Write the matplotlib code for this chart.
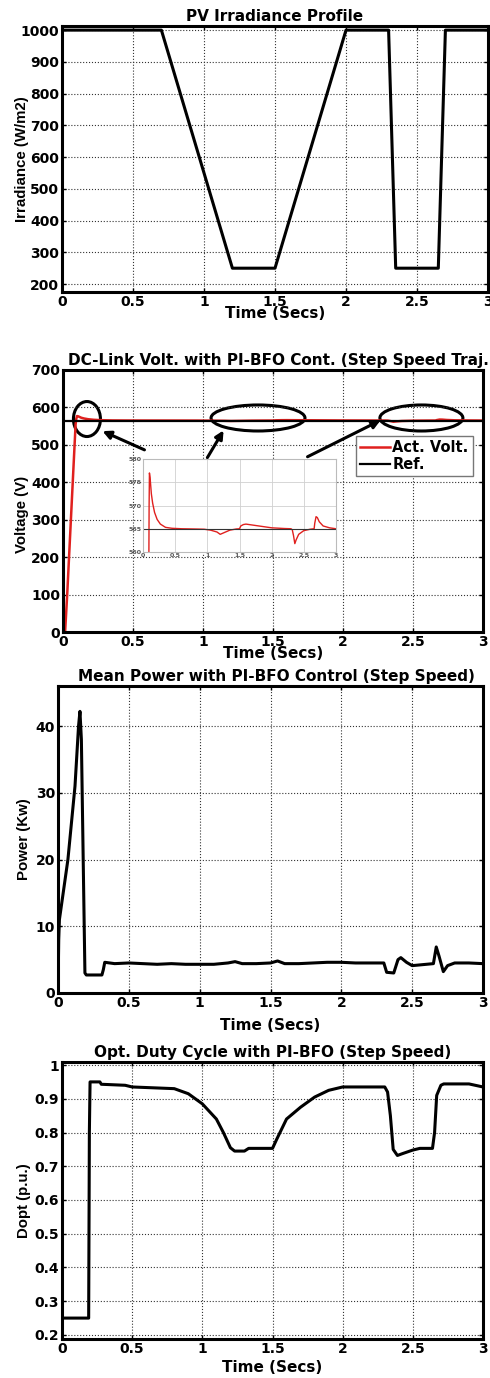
import matplotlib
matplotlib.use('Agg')
import matplotlib.pyplot as plt
from matplotlib.patches import Ellipse

# PV irradiance profile (W/m2)
irr_t = [0, 0.7, 1.2, 1.5, 2.0, 2.3, 2.35, 2.65, 2.7, 3.0]
irr_g = [1000, 1000, 250, 250, 1000, 1000, 250, 250, 1000, 1000]

# DC-link voltage (V)
vdc_t = [0, 0.015, 0.03, 0.09, 0.095, 0.1, 0.11, 0.13, 0.15, 0.18, 0.22, 0.27,
         0.35, 0.45, 0.6, 0.8, 0.95, 1.05, 1.15, 1.2, 1.25, 1.35, 1.45, 1.5,
         1.52, 1.56, 1.6, 1.7, 1.85, 2.0, 2.2, 2.3, 2.32, 2.34, 2.36, 2.38,
         2.42, 2.5, 2.6, 2.66, 2.67, 2.69, 2.71, 2.74, 2.8, 2.9, 3.0]
vdc_v = [0, 0, 100, 555, 570, 577, 576, 572.5, 570.5, 568.5, 567, 566,
         565.3, 565.1, 565, 564.95, 564.9, 564.7, 564.3, 563.8, 564.1, 564.7, 564.95, 565,
         565.6, 565.9, 566, 565.8, 565.5, 565.2, 565.05, 565, 564.8, 563.5, 561.8, 562.6,
         563.8, 564.6, 564.9, 565, 566.2, 567.6, 567.4, 566.5, 565.6, 565.2, 565.0]
vdc_ref = 565

# mean power (kW)
pw_t = [0, 0.005, 0.01, 0.03, 0.07, 0.12, 0.145, 0.155, 0.165, 0.19, 0.2, 0.31,
        0.32, 0.33, 0.4, 0.5, 0.6, 0.7, 0.8, 0.9, 1.0, 1.1, 1.2, 1.25, 1.3, 1.4,
        1.5, 1.55, 1.6, 1.7, 1.8, 1.9, 2.0, 2.1, 2.2, 2.3, 2.32, 2.37, 2.4, 2.42,
        2.46, 2.5, 2.6, 2.65, 2.67, 2.69, 2.72, 2.75, 2.8, 2.9, 3.0]
pw_p = [0, 8, 11, 14, 20, 31, 40, 42.2, 38, 3.0, 2.7, 2.7,
        3.5, 4.6, 4.4, 4.5, 4.4, 4.3, 4.4, 4.3, 4.3, 4.3, 4.5, 4.7, 4.4, 4.4,
        4.5, 4.8, 4.4, 4.4, 4.5, 4.6, 4.6, 4.5, 4.5, 4.5, 3.1, 3.0, 5.0, 5.3,
        4.6, 4.1, 4.3, 4.4, 6.9, 5.5, 3.2, 4.1, 4.5, 4.5, 4.4]

# optimal duty cycle (p.u.)
d_t = [0, 0.19, 0.195, 0.2, 0.27, 0.28, 0.45, 0.5, 0.8, 0.9, 1.0, 1.1, 1.15,
       1.2, 1.23, 1.3, 1.33, 1.5, 1.53, 1.6, 1.7, 1.8, 1.9, 2.0, 2.3, 2.32,
       2.34, 2.36, 2.39, 2.43, 2.5, 2.55, 2.64, 2.655, 2.67, 2.7, 2.72, 2.9, 3.0]
d_v = [0.25, 0.25, 0.8, 0.95, 0.95, 0.943, 0.94, 0.935, 0.93, 0.915, 0.885, 0.84, 0.80,
       0.755, 0.745, 0.745, 0.753, 0.753, 0.78, 0.84, 0.875, 0.905, 0.925, 0.935, 0.935, 0.92,
       0.85, 0.75, 0.732, 0.738, 0.748, 0.753, 0.753, 0.80, 0.91, 0.94, 0.944, 0.944, 0.935]

W, H = 490, 1378
plt.rcParams['font.family'] = ['DejaVu Sans']
plt.rcParams['font.weight'] = 'bold'
plt.rcParams['font.size'] = 10
plt.rcParams['axes.titleweight'] = 'bold'
plt.rcParams['axes.labelweight'] = 'bold'

fig = plt.figure(figsize=(W / 100, H / 100), dpi=100)
fig.set_facecolor('white')


def add_ax(l, t, r, b):
    return fig.add_axes([l / W, 1 - b / H, (r - l) / W, (b - t) / H])


def setup(ax, box, title, ylabel, xlab_y, ylab_x, title_x=0.5):
    """MATLAB-like look: thick box, dotted grid, inward ticks."""
    l, t, r, b = box
    for s in ax.spines.values():
        s.set_linewidth(2.2)
    ax.grid(True, linestyle=':', color='#333333', linewidth=0.8)
    ax.tick_params(direction='in', length=3, width=1, pad=2,
                   top=True, right=True, labelsize=10)
    ax.set_xlim(0, 3)
    ax.set_xticks([0, 0.5, 1, 1.5, 2, 2.5, 3])
    ax.set_xticklabels(['0', '0.5', '1', '1.5', '2', '2.5', '3'])
    ax.set_title(title, pad=3.5, fontsize=11, x=title_x)
    ax.set_xlabel('Time (Secs)', va='center', fontsize=11)
    ax.xaxis.set_label_coords(0.5, (b - xlab_y) / (b - t))
    ax.set_ylabel(ylabel, va='center', fontsize=10.8, family='Liberation Sans')
    ax.yaxis.set_label_coords((ylab_x - l) / (r - l), 0.5)


# panel 1: irradiance
box1 = (62, 26, 488, 292)
ax1 = add_ax(*box1)
ax1.plot(irr_t, irr_g, color='k', lw=2.2)
ax1.set_ylim(175, 1013)
ax1.set_yticks(range(200, 1001, 100))
setup(ax1, box1, 'PV Irradiance Profile', 'Irradiance (W/m2)', 313, 22)

# panel 2: DC-link voltage
box2 = (63, 370, 483, 632)
ax2 = add_ax(*box2)
ax2.plot(vdc_t, vdc_v, color='#e0201e', lw=1.8, label='Act. Volt.')
ax2.plot([0, 3], [vdc_ref, vdc_ref], color='k', lw=1.6, label='Ref.')
ax2.set_ylim(0, 700)
ax2.set_yticks(range(0, 701, 100))
setup(ax2, box2, 'DC-Link Volt. with PI-BFO Cont. (Step Speed Traj.)',
      'Voltage (V)', 654, 22, title_x=0.52)
ax2.yaxis.set_label_coords((22 - 63) / 420, 0.45)
for (cx, cy, ew, eh) in [(0.171, 569, 0.193, 93.5), (1.393, 571.8, 0.671, 69.5),
                         (2.56, 571.8, 0.593, 69.5)]:
    ax2.add_patch(Ellipse((cx, cy), ew, eh, fill=False, lw=2.2, ec='k', clip_on=False))
for tail, head in [((0.6, 483.6), (0.264, 539.7)), ((1.021, 459.5), (1.157, 545)),
                   ((1.729, 464.9), (2.286, 569))]:
    ax2.annotate('', xy=head, xytext=tail,
                 arrowprops=dict(arrowstyle='-|>', lw=2.2, color='k', mutation_scale=12))
ax2.legend(loc='upper left', bbox_to_anchor=(356 / W, 1 - 436 / H),
           bbox_transform=fig.transFigure, borderaxespad=0, fontsize=10.5,
           handlelength=2.0, handletextpad=0.2, labelspacing=0.1, borderpad=0.3,
           fancybox=False, framealpha=1, edgecolor='#777777')

# inset zoom of the voltage
axi = add_ax(143, 459, 336, 552)
axi.plot(vdc_t, vdc_v, color='#e0201e', lw=1.0)
axi.plot([0, 3], [vdc_ref, vdc_ref], color='#333333', lw=0.8)
axi.set_xlim(0, 3)
axi.set_ylim(560, 580)
axi.set_xticks([0, 0.5, 1, 1.5, 2, 2.5, 3])
axi.set_xticklabels(['0', '0.5', '1', '1.5', '2', '2.5', '3'])
axi.set_yticks([560, 565, 570, 575, 580])
axi.grid(True, color='#d0d0d0', lw=0.6)
axi.tick_params(length=0, pad=1, labelsize=4.5, labelcolor='#555555')
for s in axi.spines.values():
    s.set_color('#bbbbbb')
    s.set_linewidth(0.8)

# panel 3: power
box3 = (58, 686, 483, 993)
ax3 = add_ax(*box3)
ax3.plot(pw_t, pw_p, color='k', lw=2.2)
ax3.set_ylim(0, 46)
ax3.set_yticks([0, 10, 20, 30, 40])
setup(ax3, box3, 'Mean Power with PI-BFO Control (Step Speed)', 'Power (Kw)', 1026, 24,
      title_x=0.515)

# panel 4: duty cycle
box4 = (62, 1062, 483, 1339)
ax4 = add_ax(*box4)
ax4.plot(d_t, d_v, color='k', lw=2.2)
ax4.set_ylim(0.188, 1.009)
ax4.set_yticks([0.2, 0.3, 0.4, 0.5, 0.6, 0.7, 0.8, 0.9, 1])
ax4.set_yticklabels(['0.2', '0.3', '0.4', '0.5', '0.6', '0.7', '0.8', '0.9', '1'])
setup(ax4, box4, 'Opt. Duty Cycle with PI-BFO (Step Speed)', 'Dopt (p.u.)', 1367, 24)

fig.savefig('out.png', dpi=100)
